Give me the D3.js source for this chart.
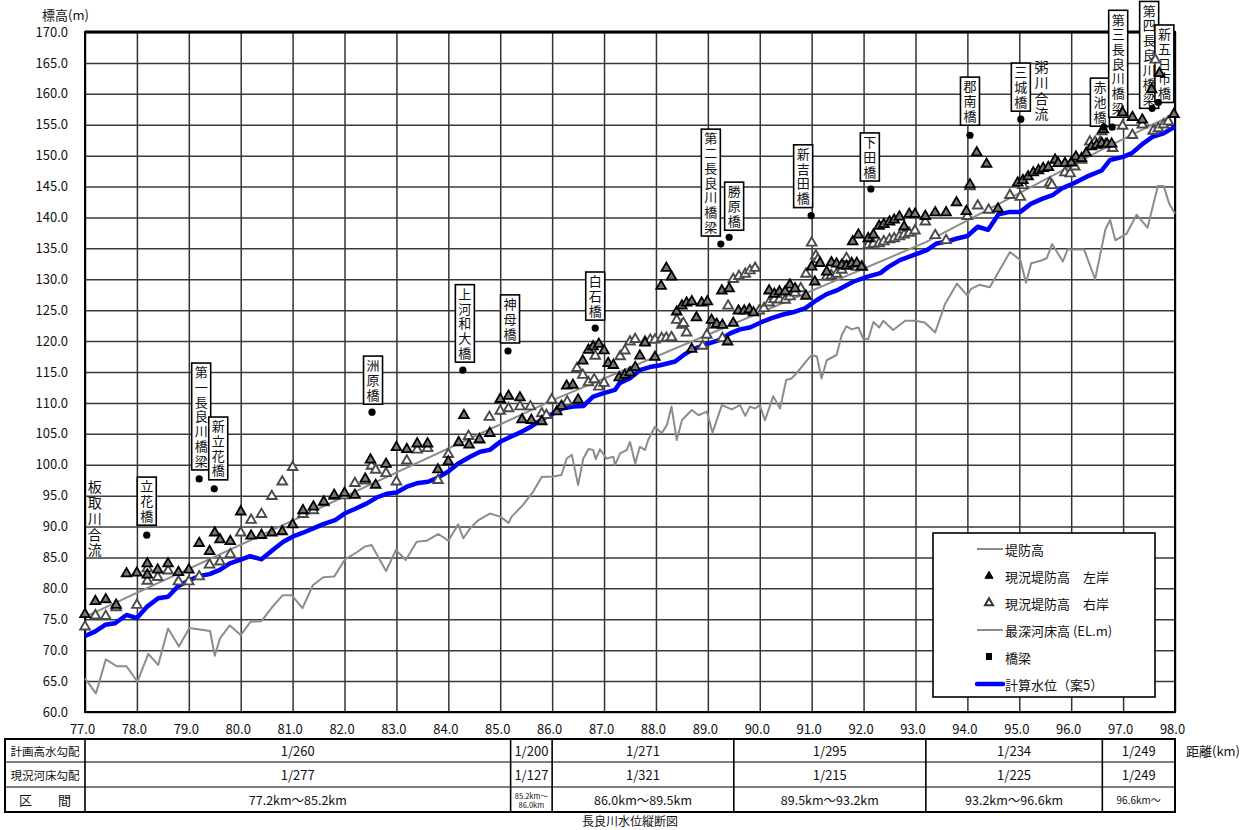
<!DOCTYPE html>
<html><head><meta charset="utf-8">
<script src="https://cdn.jsdelivr.net/npm/d3@7"></script>
<style>
body{margin:0;background:#fff;}
text{font-family:"Noto Sans CJK JP","Noto Sans",sans-serif;fill:#111;}
.vt{writing-mode:vertical-rl;text-orientation:upright;}
</style>
</head><body>
<svg id="c" width="1245" height="830"></svg>
<script>
// ---------- data ----------
const xTicks = d3.range(77, 98.001, 1);
const yTicks = d3.range(60, 170.001, 5);

const embankment = [[77.0,75.4],[85.2,107.3],[86.0,110.4],[89.5,122.8],[93.2,136.0],[96.6,151.0],[98.0,156.8]];

const waterLevel = [[77.0,72.3],[77.19,73.0],[77.39,74.1],[77.58,74.35],[77.8,75.7],[78.0,75.2],[78.19,77.0],[78.41,78.4],[78.6,78.65],[78.8,80.4],[79.02,81.35],[79.2,82.0],[79.4,82.3],[79.6,83.0],[79.79,84.05],[79.99,84.6],[80.18,85.2],[80.4,84.7],[80.63,86.3],[80.82,87.55],[81.01,88.4],[81.2,89.0],[81.4,89.7],[81.59,90.4],[81.82,91.05],[82.0,92.1],[82.23,92.95],[82.43,93.75],[82.62,94.7],[82.81,95.3],[83.0,95.5],[83.2,96.45],[83.39,97.0],[83.61,97.25],[83.81,97.95],[84.0,98.9],[84.19,100.2],[84.42,101.3],[84.61,102.1],[84.8,102.4],[85.0,103.7],[85.19,104.5],[85.38,105.2],[85.6,106.2],[85.83,107.5],[86.02,108.3],[86.2,109.1],[86.4,109.4],[86.6,109.5],[86.79,111.0],[86.98,111.55],[87.21,112.1],[87.3,113.2],[87.5,114.0],[87.69,115.3],[87.88,115.8],[88.08,116.1],[88.37,116.7],[88.56,117.9],[88.72,118.7],[88.98,119.5],[89.23,120.2],[89.43,121.25],[89.62,121.9],[89.81,122.2],[90.04,123.1],[90.23,123.7],[90.45,124.3],[90.68,124.75],[90.87,125.3],[91.1,126.65],[91.29,127.6],[91.51,128.3],[91.8,129.6],[92.06,130.4],[92.32,131.0],[92.48,132.0],[92.7,133.1],[92.96,133.9],[93.22,134.7],[93.41,135.8],[93.6,136.1],[93.8,136.6],[94.0,137.0],[94.2,138.5],[94.4,138.0],[94.6,140.5],[94.82,140.9],[95.02,140.9],[95.22,142.2],[95.44,143.0],[95.64,143.6],[95.82,144.7],[96.04,145.5],[96.3,146.6],[96.59,147.6],[96.75,149.3],[97.0,149.8],[97.17,150.4],[97.39,152.0],[97.58,153.1],[97.78,153.6],[98.0,154.7]];

const riverBed = [[77.0,65.45],[77.21,63.0],[77.4,68.5],[77.61,67.4],[77.8,67.4],[78.01,64.9],[78.22,69.4],[78.41,67.6],[78.6,73.5],[78.81,70.6],[79.01,73.6],[79.41,73.1],[79.5,69.1],[79.6,71.9],[79.79,74.0],[80.0,72.45],[80.19,74.6],[80.4,74.7],[80.6,76.9],[80.81,78.9],[80.98,78.9],[81.19,76.8],[81.39,80.5],[81.59,81.8],[81.8,81.9],[82.01,84.7],[82.23,85.8],[82.39,86.75],[82.52,87.0],[82.8,82.8],[82.99,86.2],[83.18,84.6],[83.39,87.55],[83.58,87.7],[83.81,88.8],[84.0,87.7],[84.19,90.35],[84.29,88.1],[84.42,89.7],[84.58,91.05],[84.8,92.1],[85.0,91.6],[85.16,90.6],[85.22,91.6],[85.44,93.5],[85.63,95.6],[85.8,98.0],[86.02,98.1],[86.18,98.35],[86.28,101.0],[86.38,101.6],[86.5,96.7],[86.6,101.0],[86.7,102.55],[86.79,102.4],[86.84,100.9],[86.92,102.5],[87.05,101.0],[87.18,101.3],[87.21,99.95],[87.31,101.85],[87.44,102.4],[87.5,103.7],[87.6,100.2],[87.69,102.9],[87.79,102.4],[87.85,104.0],[87.98,106.15],[88.11,105.1],[88.21,106.4],[88.3,109.4],[88.4,104.0],[88.5,107.2],[88.69,108.85],[88.82,108.0],[88.98,108.6],[89.09,105.2],[89.27,109.65],[89.46,108.95],[89.62,109.65],[89.72,107.9],[89.81,109.4],[89.91,109.1],[90.0,109.65],[90.1,107.2],[90.26,111.1],[90.39,109.1],[90.51,113.7],[90.61,113.95],[90.71,114.8],[90.9,116.8],[91.0,117.75],[91.1,117.5],[91.19,113.95],[91.29,116.9],[91.48,117.75],[91.58,121.0],[91.67,122.4],[91.77,121.9],[91.9,122.2],[91.99,120.45],[92.09,120.3],[92.19,123.1],[92.3,122.2],[92.38,123.3],[92.57,121.8],[92.8,123.3],[92.99,123.3],[93.18,123.0],[93.38,121.4],[93.57,126.0],[93.8,129.3],[94.0,127.35],[94.07,128.45],[94.23,129.1],[94.43,128.7],[94.82,134.4],[95.02,133.1],[95.13,129.45],[95.23,132.6],[95.41,133.0],[95.53,133.4],[95.63,135.7],[95.84,132.9],[95.93,134.8],[96.25,134.8],[96.46,130.0],[96.66,138.1],[96.75,139.6],[96.85,136.3],[97.07,137.4],[97.26,140.45],[97.47,138.35],[97.67,145.1],[97.78,145.1],[97.89,142.2],[98.0,140.6]];

const leftBank = [[77.0,75.8],[77.2,77.9],[77.4,78.2],[77.6,77.3],[77.8,82.4],[78.0,82.5],[78.2,84.0],[78.2,82.2],[78.4,83.0],[78.6,84.0],[78.8,82.6],[79.0,83.0],[79.2,87.3],[79.4,86.0],[79.5,89.0],[79.6,87.9],[79.8,87.6],[80.0,92.4],[80.2,88.5],[80.4,88.6],[80.6,89.0],[80.8,89.2],[81.0,90.3],[81.2,92.6],[81.4,93.2],[81.6,94.0],[81.8,95.1],[82.0,95.4],[82.2,95.1],[82.4,97.7],[82.5,100.8],[82.6,96.7],[82.8,100.1],[83.0,102.8],[83.2,102.5],[83.4,103.4],[83.6,103.4],[83.8,99.2],[84.0,100.5],[84.2,103.6],[84.3,108.0],[84.4,103.2],[84.6,104.1],[84.8,105.1],[85.0,110.6],[85.16,111.1],[85.38,110.85],[85.42,107.3],[85.6,107.2],[85.8,107.0],[86.09,108.6],[86.18,109.5],[86.28,112.75],[86.4,112.9],[86.5,110.5],[86.59,116.8],[86.7,118.55],[86.79,119.1],[86.9,119.5],[87.0,118.45],[87.08,116.4],[87.18,116.1],[87.29,114.1],[87.4,114.5],[87.5,114.9],[87.6,115.75],[87.69,117.6],[87.79,119.7],[87.98,117.4],[88.1,128.9],[88.2,131.8],[88.3,130.4],[88.4,124.75],[88.5,125.7],[88.59,126.2],[88.69,126.4],[88.69,118.7],[88.78,123.8],[88.88,126.2],[88.99,126.4],[89.07,123.4],[89.17,122.75],[89.27,128.15],[89.28,122.6],[89.38,119.9],[89.41,128.5],[89.49,122.9],[89.59,124.9],[89.7,124.9],[89.8,125.1],[89.88,124.6],[90.18,128.15],[90.28,127.6],[90.38,128.0],[90.49,128.0],[90.58,129.1],[90.68,128.5],[90.89,127.3],[91.0,132.0],[91.06,129.6],[91.16,132.6],[91.29,131.2],[91.38,132.7],[91.48,132.5],[91.58,132.3],[91.67,132.15],[91.77,132.5],[91.79,136.1],[91.87,132.6],[91.9,137.2],[91.96,132.0],[92.09,136.6],[92.19,137.2],[92.3,138.6],[92.39,138.9],[92.5,139.3],[92.59,139.6],[92.69,140.1],[92.78,138.5],[92.88,140.55],[92.99,140.55],[93.19,140.2],[93.38,140.8],[93.59,140.8],[93.79,142.4],[93.98,141.0],[94.05,145.3],[94.18,150.5],[94.37,148.65],[94.59,141.4],[94.97,145.6],[95.07,146.0],[95.17,146.6],[95.27,147.25],[95.37,147.6],[95.46,147.95],[95.56,148.1],[95.69,149.3],[95.75,148.75],[95.88,148.75],[96.0,148.85],[96.09,149.8],[96.2,149.55],[96.29,150.4],[96.39,151.45],[96.49,151.7],[96.59,152.0],[96.62,154.2],[96.69,151.9],[96.78,151.9],[96.99,156.95],[97.18,156.2],[97.37,155.8],[97.55,160.7],[97.7,163.3],[97.98,156.7]];

const rightBank = [[77.0,73.8],[77.2,75.6],[77.4,75.5],[77.6,76.9],[78.0,77.3],[78.2,83.2],[78.2,81.2],[78.4,81.8],[78.6,82.85],[78.8,81.1],[79.0,81.1],[79.2,81.9],[79.4,83.8],[79.6,84.3],[79.8,85.5],[80.0,89.0],[80.2,91.05],[80.4,92.0],[80.6,94.9],[80.8,97.25],[81.0,99.6],[81.2,92.0],[81.4,92.6],[81.6,93.9],[81.8,94.9],[82.0,95.0],[82.2,97.0],[82.4,97.4],[82.52,99.8],[82.6,99.15],[82.8,98.6],[83.0,97.25],[83.2,100.65],[83.4,102.4],[83.6,102.65],[83.8,97.5],[84.0,101.7],[84.39,104.6],[84.6,104.0],[84.79,107.7],[85.0,108.7],[85.16,109.1],[85.38,109.4],[85.58,109.4],[85.8,108.3],[85.89,108.0],[85.99,110.5],[86.29,110.2],[86.48,115.6],[86.59,114.5],[86.7,113.3],[86.81,113.8],[86.83,117.6],[86.9,112.6],[87.0,113.2],[87.31,117.5],[87.4,118.45],[87.5,119.9],[87.6,120.3],[87.79,119.9],[87.89,120.2],[87.98,120.2],[88.11,120.45],[88.2,120.5],[88.3,120.6],[88.4,123.4],[88.5,122.6],[88.53,122.9],[88.59,121.35],[88.9,119.2],[88.98,121.0],[89.1,122.6],[89.28,120.45],[89.39,125.7],[89.49,130.0],[89.6,130.5],[89.72,130.85],[89.81,131.4],[89.91,131.8],[89.99,124.9],[90.08,125.3],[90.18,126.2],[90.28,126.75],[90.38,126.7],[90.49,126.65],[90.58,127.2],[90.68,127.8],[90.79,128.5],[90.89,130.85],[91.0,135.9],[91.08,133.8],[91.12,133.2],[91.29,130.4],[91.38,130.6],[91.48,130.85],[91.58,131.5],[91.67,133.4],[91.77,132.6],[91.87,132.0],[91.98,132.0],[92.09,135.55],[92.19,135.7],[92.3,135.8],[92.39,136.1],[92.5,136.45],[92.59,136.6],[92.69,136.9],[92.78,137.2],[92.88,137.5],[92.99,137.85],[93.19,139.3],[93.38,137.1],[93.59,136.3],[94.0,140.2],[94.05,145.0],[94.2,141.9],[94.41,141.2],[94.82,143.6],[95.02,143.3],[95.07,145.2],[95.59,145.6],[95.63,145.2],[95.88,147.25],[95.98,147.1],[96.07,148.2],[96.2,149.3],[96.36,152.25],[96.46,152.2],[96.56,152.2],[96.59,153.9],[96.66,151.8],[96.8,151.2],[96.99,154.8],[97.18,153.3],[97.37,155.0],[97.58,154.0],[97.62,165.5],[97.68,154.4],[97.78,155.0],[97.87,155.5]];

const bridgeNames = ["立花橋","第一長良川橋梁","新立花橋","洲原橋","上河和大橋","神母橋","白石橋","第二長良川橋梁","勝原橋","新吉田橋","下田橋","郡南橋","三城橋","赤池橋","第三長良川橋梁","第四長良川橋梁","新五日市橋"];
const bridgeKm = [78.19,79.2,79.49,82.53,84.28,85.15,86.83,89.25,89.41,90.99,92.14,94.05,95.03,96.63,96.79,97.56,97.68];
const bridgeElev = [88.6,97.7,96.1,108.5,115.3,118.4,122.1,135.7,136.8,140.3,144.6,153.3,155.9,154.6,154.6,157.65,158.6];
// label box layout (pixels): horizontal shift and gap above the dot
const labelDx = [0,2,4,1,2,2,0,-10,5,-8,-1,0,0,-4,6,-3,6];
const labelGap = [10,9,9,8,8,8,8,8,7,8,8,10,8,1,10,0,0];

const confluences = [{name:"板取川合流", km:77.19, top:97.5},{name:"粥川合流", km:95.43, top:165.5}];

const sectionBounds = [77.0, 85.2, 86.0, 89.5, 93.2, 96.6, 98.0];
const planGradient = ["1/260","1/200","1/271","1/295","1/234","1/249"];
const bedGradient = ["1/277","1/127","1/321","1/215","1/225","1/249"];
const sectionLabels = [["77.2km～85.2km"],["85.2km～","86.0km"],["86.0km～89.5km"],["89.5km～93.2km"],["93.2km～96.6km"],["96.6km～"]];
const rowLabels = ["計画高水勾配","現況河床勾配","区　　間"];

const legendItems = [
  {label:"堤防高", kind:"line", color:"#8c8c8c", w:2},
  {label:"現況堤防高　左岸", kind:"triL"},
  {label:"現況堤防高　右岸", kind:"triR"},
  {label:"最深河床高 (EL.m)", kind:"line", color:"#8c8c8c", w:2},
  {label:"橋梁", kind:"dot"},
  {label:"計算水位（案5）", kind:"line", color:"#0000ff", w:4.5}
];

// ---------- drawing ----------
const svg = d3.select("#c");
const L = 85, R = 1175, T = 32, B = 712;
const x = d3.scaleLinear().domain([77, 98]).range([L, R]);
const y = d3.scaleLinear().domain([60, 170]).range([B, T]);

// grid via axes
const gx = svg.append("g").attr("transform", `translate(0,${B})`)
  .call(d3.axisBottom(x).tickValues(xTicks).tickSize(-(B - T)).tickPadding(13).tickFormat(d3.format(".1f")));
gx.select(".domain").remove();
gx.selectAll(".tick line").attr("stroke", "#333").attr("stroke-width", 1.5);
gx.selectAll(".tick text").attr("font-size", 13).attr("dx", -3)
  .attr("font-family", '"Noto Sans CJK JP",sans-serif').attr("fill", "#111");

const gy = svg.append("g").attr("transform", `translate(${L},0)`)
  .call(d3.axisLeft(y).tickValues(yTicks).tickSize(-(R - L)).tickPadding(17).tickFormat(d3.format(".1f")));
gy.select(".domain").remove();
gy.selectAll(".tick line").attr("stroke", "#3a3a3a").attr("stroke-width", 1.5);
gy.selectAll(".tick text").attr("font-size", 13)
  .attr("font-family", '"Noto Sans CJK JP",sans-serif').attr("fill", "#111");

// frame
svg.append("rect").attr("x", L).attr("y", T).attr("width", R - L).attr("height", B - T)
  .attr("fill", "none").attr("stroke", "#000").attr("stroke-width", 2);
svg.append("line").attr("x1", L).attr("x2", R).attr("y1", T).attr("y2", T).attr("stroke", "#000").attr("stroke-width", 3);

svg.append("text").attr("x", 42).attr("y", 20).attr("font-size", 13).text("標高(m)");

const line = d3.line().x(d => x(d[0])).y(d => y(d[1]));

const plot = svg.append("g");
plot.append("path").datum(embankment).attr("d", line).attr("fill", "none").attr("stroke", "#8c8c8c").attr("stroke-width", 2);
plot.append("path").datum(riverBed).attr("d", line).attr("fill", "none").attr("stroke", "#8c8c8c").attr("stroke-width", 2).attr("stroke-linejoin", "round");

// bridge label boxes (vertical text)
const step = 14.7, fs = 13;
bridgeNames.forEach((name, i) => {
  const n = Array.from(name).length;
  const h = n * step + 4;
  const cx = x(bridgeKm[i]) + labelDx[i];
  const bottom = y(bridgeElev[i]) - labelGap[i];
  const top = bottom - h;
  const g = plot.append("g");
  g.append("rect").attr("x", cx - 9.5).attr("y", top).attr("width", 19).attr("height", h)
    .attr("fill", "#fff").attr("stroke", "#000").attr("stroke-width", 1.6);
  g.append("text").attr("class", "vt").attr("x", cx).attr("y", top + 2 + (step - fs) / 2)
    .attr("font-size", fs).attr("letter-spacing", step - fs).attr("fill", "#222").text(name);
});

// confluence labels
confluences.forEach(cf => {
  svg.append("text").attr("class", "vt").attr("x", x(cf.km)).attr("y", y(cf.top))
    .attr("font-size", 14).attr("letter-spacing", 1.7).attr("fill", "#222").text(cf.name);
});

// water level
plot.append("path").datum(waterLevel).attr("d", line).attr("fill", "none")
  .attr("stroke", "#0000ff").attr("stroke-width", 4.5).attr("stroke-linejoin", "round");

// triangles
const tri = d3.symbol().type(d3.symbolTriangle).size(40);
plot.selectAll(".r").data(rightBank).join("path").attr("class", "r")
  .attr("d", tri).attr("transform", d => `translate(${x(d[0])},${y(d[1])})`)
  .attr("fill", "#fff").attr("stroke", "#4a4a4a").attr("stroke-width", 1.9);
plot.selectAll(".l").data(leftBank).join("path").attr("class", "l")
  .attr("d", tri).attr("transform", d => `translate(${x(d[0])},${y(d[1])})`)
  .attr("fill", "#777").attr("stroke", "#000").attr("stroke-width", 1.8);

// bridge dots
plot.selectAll(".b").data(bridgeKm).join("circle").attr("class", "b")
  .attr("cx", d => x(d)).attr("cy", (d, i) => y(bridgeElev[i])).attr("r", 3.6).attr("fill", "#000");

// legend
const lg = svg.append("g");
lg.append("rect").attr("x", 933).attr("y", 533).attr("width", 222).attr("height", 164)
  .attr("fill", "#fff").attr("stroke", "#000").attr("stroke-width", 1.6);
legendItems.forEach((it, i) => {
  const yy = 549 + i * 27;
  if (it.kind === "line") {
    lg.append("line").attr("x1", 977).attr("x2", 1003).attr("y1", yy).attr("y2", yy)
      .attr("stroke", it.color).attr("stroke-width", it.w).attr("stroke-linecap", it.w > 3 ? "round" : "butt");
  } else if (it.kind === "triL") {
    lg.append("path").attr("d", d3.symbol().type(d3.symbolTriangle).size(28))
      .attr("transform", `translate(989,${yy})`).attr("fill", "#000").attr("stroke", "#000").attr("stroke-width", 1);
  } else if (it.kind === "triR") {
    lg.append("path").attr("d", d3.symbol().type(d3.symbolTriangle).size(28))
      .attr("transform", `translate(989,${yy})`).attr("fill", "#fff").attr("stroke", "#333").attr("stroke-width", 2);
  } else {
    lg.append("rect").attr("x", 986).attr("y", yy - 4).attr("width", 6).attr("height", 7).attr("fill", "#000");
  }
  lg.append("text").attr("x", 1005).attr("y", yy).attr("dominant-baseline", "central")
    .attr("font-size", 13).text(it.label);
});

// table
const tb = svg.append("g");
const rowsY = [739, 762, 787, 812];
const TL = 5, TR = x(98);
tb.append("rect").attr("x", TL).attr("y", rowsY[0]).attr("width", TR - TL).attr("height", rowsY[3] - rowsY[0])
  .attr("fill", "none").attr("stroke", "#000").attr("stroke-width", 2);
[rowsY[1], rowsY[2]].forEach(yy => tb.append("line").attr("x1", TL).attr("x2", TR).attr("y1", yy).attr("y2", yy)
  .attr("stroke", "#000").attr("stroke-width", 1.2));
sectionBounds.slice(0, -1).forEach(k => tb.append("line").attr("x1", x(k)).attr("x2", x(k))
  .attr("y1", rowsY[0]).attr("y2", rowsY[3]).attr("stroke", "#000").attr("stroke-width", 1.6));
rowLabels.forEach((t, r) => tb.append("text").attr("x", (TL + L) / 2).attr("y", (rowsY[r] + rowsY[r + 1]) / 2)
  .attr("text-anchor", "middle").attr("dominant-baseline", "central").attr("font-size", r === 2 ? 13 : 11.5).text(t));
for (let s = 0; s < planGradient.length; s++) {
  const cx = (x(sectionBounds[s]) + x(sectionBounds[s + 1])) / 2;
  tb.append("text").attr("x", cx).attr("y", (rowsY[0] + rowsY[1]) / 2).attr("text-anchor", "middle")
    .attr("dominant-baseline", "central").attr("font-size", 13).text(planGradient[s]);
  tb.append("text").attr("x", cx).attr("y", (rowsY[1] + rowsY[2]) / 2).attr("text-anchor", "middle")
    .attr("dominant-baseline", "central").attr("font-size", 13).text(bedGradient[s]);
  const lab = sectionLabels[s];
  const my = (rowsY[2] + rowsY[3]) / 2;
  if (lab.length === 2) {
    lab.forEach((t, j) => tb.append("text").attr("x", cx).attr("y", my + (j - 0.5) * 9).attr("text-anchor", "middle")
      .attr("dominant-baseline", "central").attr("font-size", 7.5).text(t));
  } else {
    const small = (sectionBounds[s + 1] - sectionBounds[s]) < 2;
    tb.append("text").attr("x", cx).attr("y", my).attr("text-anchor", "middle")
      .attr("dominant-baseline", "central").attr("font-size", small ? 10 : 12.5).text(lab[0]);
  }
}
svg.append("text").attr("x", 1186).attr("y", 750).attr("dominant-baseline", "central").attr("font-size", 13).text("距離(km)");
svg.append("text").attr("x", (L + R) / 2).attr("y", 820).attr("text-anchor", "middle").attr("dominant-baseline", "central")
  .attr("font-size", 12).text("長良川水位縦断図");
</script>
</body></html>
